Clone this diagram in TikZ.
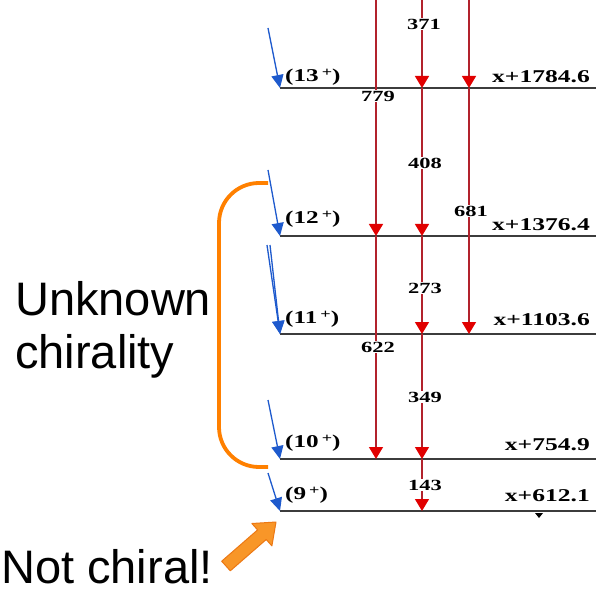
\documentclass[tikz,border=0pt]{standalone}
\usepackage{fontspec}
\usepackage{graphicx}
\setmainfont{Liberation Serif}
\newfontfamily\sansf{Liberation Sans}
\usetikzlibrary{arrows.meta}
\definecolor{lvl}{RGB}{60,60,60}
\definecolor{trans}{RGB}{178,34,44}
\definecolor{tipred}{RGB}{225,0,0}
\definecolor{bl}{RGB}{30,90,205}
\definecolor{orng}{RGB}{255,128,0}
\definecolor{orngfill}{RGB}{248,150,40}
\definecolor{orngedge}{RGB}{236,120,20}
\newcommand{\wideT}[2]{\scalebox{#1}[1]{#2}}
\newcommand{\supplus}{\raisebox{5pt}{\fontsize{13}{13}\selectfont\,+}}
\begin{document}
\begin{tikzpicture}[x=1pt,y=-1pt,
  levelline/.style={draw=lvl, line width=1.9pt},
  gammaline/.style={draw=trans, line width=1.4pt, -{Triangle[width=14pt,length=12pt,color=tipred]}},
  glabel/.style={fill=white, inner sep=1.2pt, font=\bfseries\fontsize{15.5}{15.5}\selectfont},
  spinlabel/.style={anchor=west, inner sep=0pt, font=\bfseries\fontsize{18}{18}\selectfont},
  elabel/.style={anchor=east, inner sep=0pt, font=\bfseries\fontsize{18}{18}\selectfont},
  feed/.style={draw=bl, line width=1.3pt, -{Triangle[width=12pt,length=13pt,color=bl]}},
  note/.style={anchor=base west, inner sep=0pt, font=\sansf\fontsize{47}{47}\selectfont},
]
\useasboundingbox (0,0) rectangle (596,593);
\fill[white] (0,0) rectangle (596,593);

% level coordinates
\foreach \n/\y in {13/88,12/236,11/334,10/459,9/511}{
  \coordinate (w\n) at (280,\y);
  \coordinate (e\n) at (596,\y);
  \coordinate (a\n) at (376,\y);
  \coordinate (b\n) at (422,\y);
  \coordinate (c\n) at (469,\y);
}
\coordinate (atop) at (376,0);
\coordinate (btop) at (422,0);
\coordinate (ctop) at (469,0);

% level lines
\foreach \n in {13,12,11,10,9}{ \draw[levelline] (w\n) -- (e\n); }

% gamma transitions
\draw[gammaline] (atop) -- (a12);
\draw[gammaline] (a12) -- (a10);
\draw[gammaline] (btop) -- (b13);
\draw[gammaline] (b13) -- (b12);
\draw[gammaline] (b12) -- (b11);
\draw[gammaline] (b11) -- (b10);
\draw[gammaline] (b10) -- (b9);
\draw[gammaline] (ctop) -- (c13);
\draw[gammaline] (c13) -- (c11);

% transition labels
\node[glabel] (g371) at (424,24) {\wideT{1.45}{371}};
\node[glabel] (g779) at (378,96) {\wideT{1.45}{779}};
\node[glabel] (g408) at (425,163) {\wideT{1.45}{408}};
\node[glabel] (g681) at (471,211) {\wideT{1.45}{681}};
\node[glabel] (g273) at (425,288) {\wideT{1.45}{273}};
\node[glabel] (g622) at (378,347) {\wideT{1.45}{622}};
\node[glabel] (g349) at (425,397) {\wideT{1.45}{349}};
\node[glabel] (g143) at (425,485) {\wideT{1.45}{143}};

% spin labels
\node[spinlabel] (s13) at (285,77) {\wideT{1.4}{(13\supplus)}};
\node[spinlabel] (s12) at (285,219) {\wideT{1.4}{(12\supplus)}};
\node[spinlabel] (s11) at (285,319) {\wideT{1.4}{(11\supplus)}};
\node[spinlabel] (s10) at (285,443) {\wideT{1.4}{(10\supplus)}};
\node[spinlabel] (s9) at (285,495) {\wideT{1.4}{(9\supplus)}};

% energy labels
\node[elabel] (en13) at (590,77) {\wideT{1.42}{x+1784.6}};
\node[elabel] (en12) at (590,225) {\wideT{1.42}{x+1376.4}};
\node[elabel] (en11) at (590,320) {\wideT{1.42}{x+1103.6}};
\node[elabel] (en10) at (590,445) {\wideT{1.42}{x+754.9}};
\node[elabel] (en9) at (590,496) {\wideT{1.42}{x+612.1}};

% small mark under the lowest level
\fill[black] (535,513) -- (543,513) -- (539,518) -- cycle;

% feeding (blue) transitions
\coordinate (f13) at (268,28);
\coordinate (f12) at (268,170);
\coordinate (f11a) at (267,245);
\coordinate (f11b) at (270,245);
\coordinate (f10) at (268,400);
\coordinate (f9) at (268,473);
\draw[feed] (f13) -- (w13);
\draw[feed] (f12) -- (w12);
\draw[feed] (f11a) -- (w11);
\draw[feed] (f11b) -- (w11);
\draw[feed] (f10) -- (w10);
\draw[feed] (f9) -- (w9);

% orange bracket
\coordinate (brtop) at (268,183);
\coordinate (brbot) at (268,467);
\draw[orng, line width=3.8pt, rounded corners=40pt] (brtop) -- (219,183) -- (219,467) -- (brbot);

% annotations
\node[note] (unk) at (15,315) {Unknown};
\node[note] (chi) at (15,368) {chirality};
\node[note] (notc) at (1,583) {Not chiral!};

% orange block arrow
\filldraw[fill=orngfill, draw=orngedge, line width=1pt, line join=round]
  (221.7,561.2) -- (257.6,529.9) -- (251.9,523.5) -- (276,522) -- (271.9,545.9) -- (266.2,539.5) -- (230.3,570.8) -- cycle;
\end{tikzpicture}
\end{document}
